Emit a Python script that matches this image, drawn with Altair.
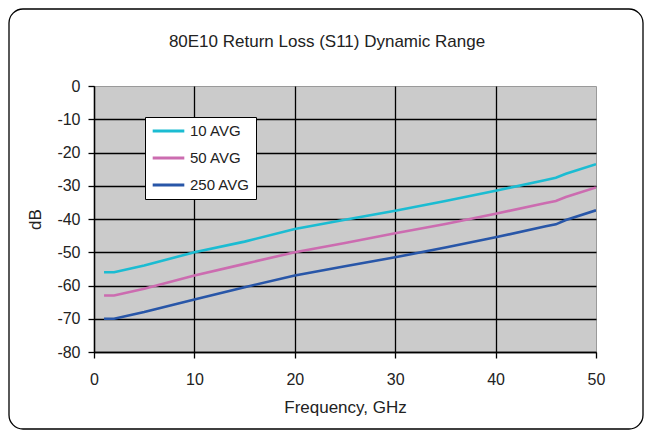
import altair as alt
import pandas as pd

# Data
freq = [1, 2, 5, 10, 15, 20, 25, 30, 35, 40, 45, 46, 47, 50]
avg10 = [-56, -56, -54, -50, -46.8, -43, -40.2, -37.5, -34.6, -31.5, -28.3, -27.6, -26.4, -23.5]
avg50 = [-63, -63, -61, -57, -53.5, -50, -47.2, -44.3, -41.5, -38.4, -35.2, -34.6, -33.4, -30.5]
avg250 = [-70, -70, -68, -64.2, -60.5, -57, -54.2, -51.5, -48.6, -45.5, -42.2, -41.6, -40.3, -37.4]
series_names = ["10 AVG", "50 AVG", "250 AVG"]
series_colors = ["#1BBCD2", "#CC6CB0", "#2856A8"]
x_ticks = [0, 10, 20, 30, 40, 50]
y_ticks = [0, -10, -20, -30, -40, -50, -60, -70, -80]
title_text = "80E10 Return Loss (S11) Dynamic Range"

rows = []
for name, vals in zip(series_names, [avg10, avg50, avg250]):
    for f, v in zip(freq, vals):
        rows.append({"Frequency": f, "dB": v, "Series": name})
df = pd.DataFrame(rows)

FONT = "Liberation Sans"
W, H = 502, 266
PAD = {"left": 86, "top": 78, "right": 49, "bottom": 79}

common_axis = dict(
    gridColor="black", gridWidth=1.3,
    domainColor="black", domainWidth=1.3,
    tickColor="black", tickSize=6, tickWidth=1.3,
    labelFont=FONT, labelFontSize=16, labelColor="#222222",
    labelFlush=False, labelExpr="'' + datum.value",
    titleFont=FONT, titleFontSize=17, titleFontWeight="normal", titleColor="#222222",
)

lines = alt.Chart(df).mark_line(strokeWidth=2.6, clip=True).encode(
    x=alt.X("Frequency:Q",
            scale=alt.Scale(domain=[0, 50], nice=False, zero=False),
            axis=alt.Axis(values=x_ticks, title="Frequency, GHz",
                          gridOpacity={"condition": {"test": "datum.value === 50", "value": 0}, "value": 1},
                          labelPadding=13, titlePadding=12, **common_axis)),
    y=alt.Y("dB:Q",
            scale=alt.Scale(domain=[-80, 0], nice=False, zero=False),
            axis=alt.Axis(values=y_ticks, title="dB",
                          gridOpacity={"condition": {"test": "datum.value === 0", "value": 0}, "value": 1},
                          labelPadding=8, titlePadding=12, **common_axis)),
    color=alt.Color("Series:N",
                    scale=alt.Scale(domain=series_names, range=series_colors),
                    legend=alt.Legend(title=None, orient="none", legendX=51, legendY=31,
                                      fillColor="white", strokeColor="black",
                                      padding=6, symbolType="stroke", symbolSize=1000,
                                      symbolStrokeWidth=3, clipHeight=16, rowPadding=11,
                                      labelFont=FONT, labelFontSize=15, labelColor="#222222",
                                      labelOffset=4)),
)

border = alt.Chart(pd.DataFrame({"a": [0]})).mark_rect(
    fill=None, stroke="black", strokeWidth=1.3, cornerRadius=14, clip=False
).encode(
    x=alt.value(-85), x2=alt.value(W + PAD["right"] - 2),
    y=alt.value(-77), y2=alt.value(H + PAD["bottom"] - 2),
)

title = alt.Chart(pd.DataFrame({"t": [title_text]})).mark_text(
    font=FONT, fontSize=17, color="#222222", align="center", baseline="middle", clip=False
).encode(
    text="t:N", x=alt.value(233), y=alt.value(-44),
)

chart = alt.layer(border, title, lines).properties(
    width=W, height=H,
    padding=PAD,
    autosize=alt.AutoSizeParams(type="none"),
    background="white",
).configure_view(fill="#CBCBCB", stroke="#9A9A9A", strokeWidth=1)

chart.save("out.html", embed_options={"renderer": "svg", "actions": False})
